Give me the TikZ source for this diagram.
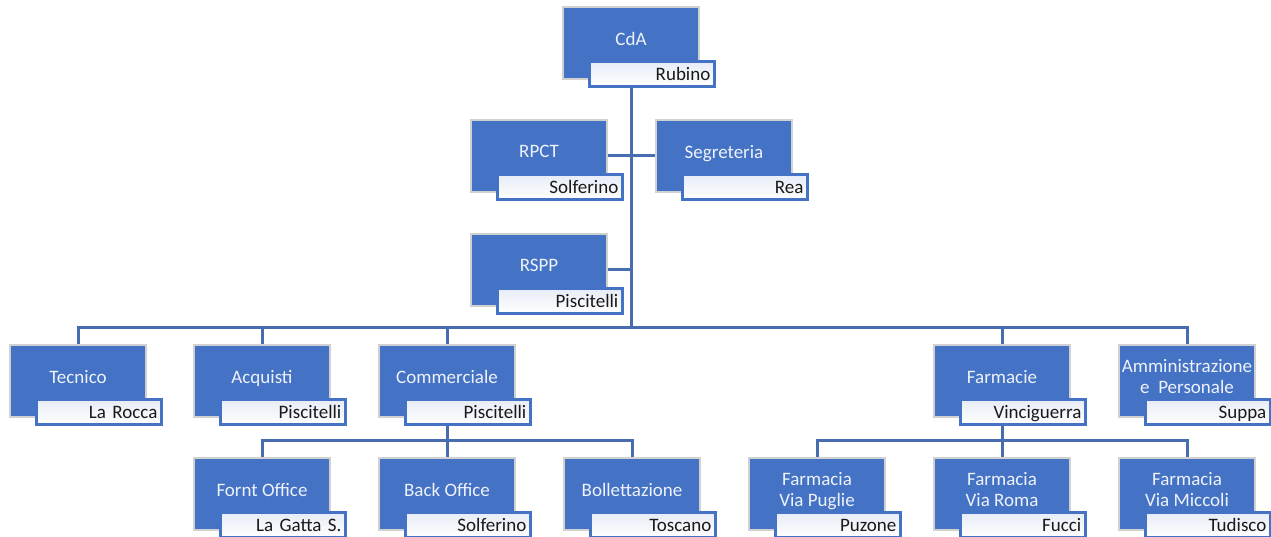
\documentclass[tikz,border=0pt]{standalone}
\usepackage{fontspec}
\setmainfont{Carlito}
\usetikzlibrary{positioning}
\definecolor{unitblue}{RGB}{68,114,196}
\definecolor{linkblue}{RGB}{72,108,176}
\definecolor{unittext}{RGB}{238,242,250}
\definecolor{namefill}{RGB}{230,235,246}

\begin{document}
\begin{tikzpicture}[x=1pt, y=-1pt,
    unit/.style={minimum width=136pt, minimum height=72pt, inner sep=1pt, align=center, text depth=9pt, fill=unitblue, draw=black!18, line width=1.2pt, text=unittext, font=\fontsize{19}{21}\selectfont},
    who/.style={anchor=south east, minimum height=25pt, text width=117pt, inner xsep=4pt, inner ysep=0pt, text height=15pt, text depth=2pt, align=right, top color=namefill, bottom color=white, draw=unitblue, line width=2.5pt, text=black!90, font=\fontsize{19}{21}\selectfont},
    link/.style={draw=linkblue, line width=3pt}]
    \useasboundingbox (0,0) rectangle (1271,537);

    % vertici
    \node (cda) [unit] at (631,43) {CdA};
    \node (cdap) [who] at ([xshift=16pt,yshift=-8pt]cda.south east) {Rubino};
    \node (rpct) [unit] at (539,156) {RPCT};
    \node (rpctp) [who] at ([xshift=16pt,yshift=-8pt]rpct.south east) {Solferino};
    \node (segr) [unit] at (724,156) {Segreteria};
    \node (segrp) [who] at ([xshift=16pt,yshift=-8pt]segr.south east) {Rea};
    \node (rspp) [unit] at (539,270) {RSPP};
    \node (rsppp) [who] at ([xshift=16pt,yshift=-8pt]rspp.south east) {Piscitelli};

    % aree
    \node (tecnico) [unit] at (78,381) {Tecnico};
    \node (tecnicop) [who] at ([xshift=16pt,yshift=-8pt]tecnico.south east) {La Rocca};
    \node (acquisti) [unit] at (262,381) {Acquisti};
    \node (acquistip) [who] at ([xshift=16pt,yshift=-8pt]acquisti.south east) {Piscitelli};
    \node (comm) [unit] at (447,381) {Commerciale};
    \node (commp) [who] at ([xshift=16pt,yshift=-8pt]comm.south east) {Piscitelli};
    \node (farm) [unit] at (1002,381) {Farmacie};
    \node (farmp) [who] at ([xshift=16pt,yshift=-8pt]farm.south east) {Vinciguerra};
    \node (amm) [unit] at (1187,381) {Amministrazione\\e\ \ Personale};
    \node (ammp) [who] at ([xshift=16pt,yshift=-8pt]amm.south east) {Suppa};

    % uffici e farmacie
    \node (front) [unit] at (262,494) {Fornt Office};
    \node (frontp) [who] at ([xshift=16pt,yshift=-8pt]front.south east) {La Gatta S.};
    \node (back) [unit] at (447,494) {Back Office};
    \node (backp) [who] at ([xshift=16pt,yshift=-8pt]back.south east) {Solferino};
    \node (boll) [unit] at (632,494) {Bollettazione};
    \node (bollp) [who] at ([xshift=16pt,yshift=-8pt]boll.south east) {Toscano};
    \node (puglie) [unit] at (817,494) {Farmacia\\Via Puglie};
    \node (pugliep) [who] at ([xshift=16pt,yshift=-8pt]puglie.south east) {Puzone};
    \node (roma) [unit] at (1002,494) {Farmacia\\Via Roma};
    \node (romap) [who] at ([xshift=16pt,yshift=-8pt]roma.south east) {Fucci};
    \node (miccoli) [unit] at (1187,494) {Farmacia\\Via Miccoli};
    \node (miccolip) [who] at ([xshift=16pt,yshift=-8pt]miccoli.south east) {Tudisco};

    \coordinate (hub) at (631,327);
    \coordinate (commhub) at (447,440);
    \coordinate (farmhub) at (1002,440);

    \draw[link] (cda |- cdap.south) -- (hub);
    \draw[link] (rpct.east) -- (segr.west);
    \draw[link] (rspp.east) -- (rspp.east -| hub);
    \foreach \n in {tecnico,acquisti,comm,farm,amm}
        \draw[link] (hub) -| (\n.north);
    \draw[link] (comm |- commp.south) -- (commhub);
    \foreach \n in {front,back,boll}
        \draw[link] (commhub) -| (\n.north);
    \draw[link] (farm |- farmp.south) -- (farmhub);
    \foreach \n in {puglie,roma,miccoli}
        \draw[link] (farmhub) -| (\n.north);
\end{tikzpicture}
\end{document}
